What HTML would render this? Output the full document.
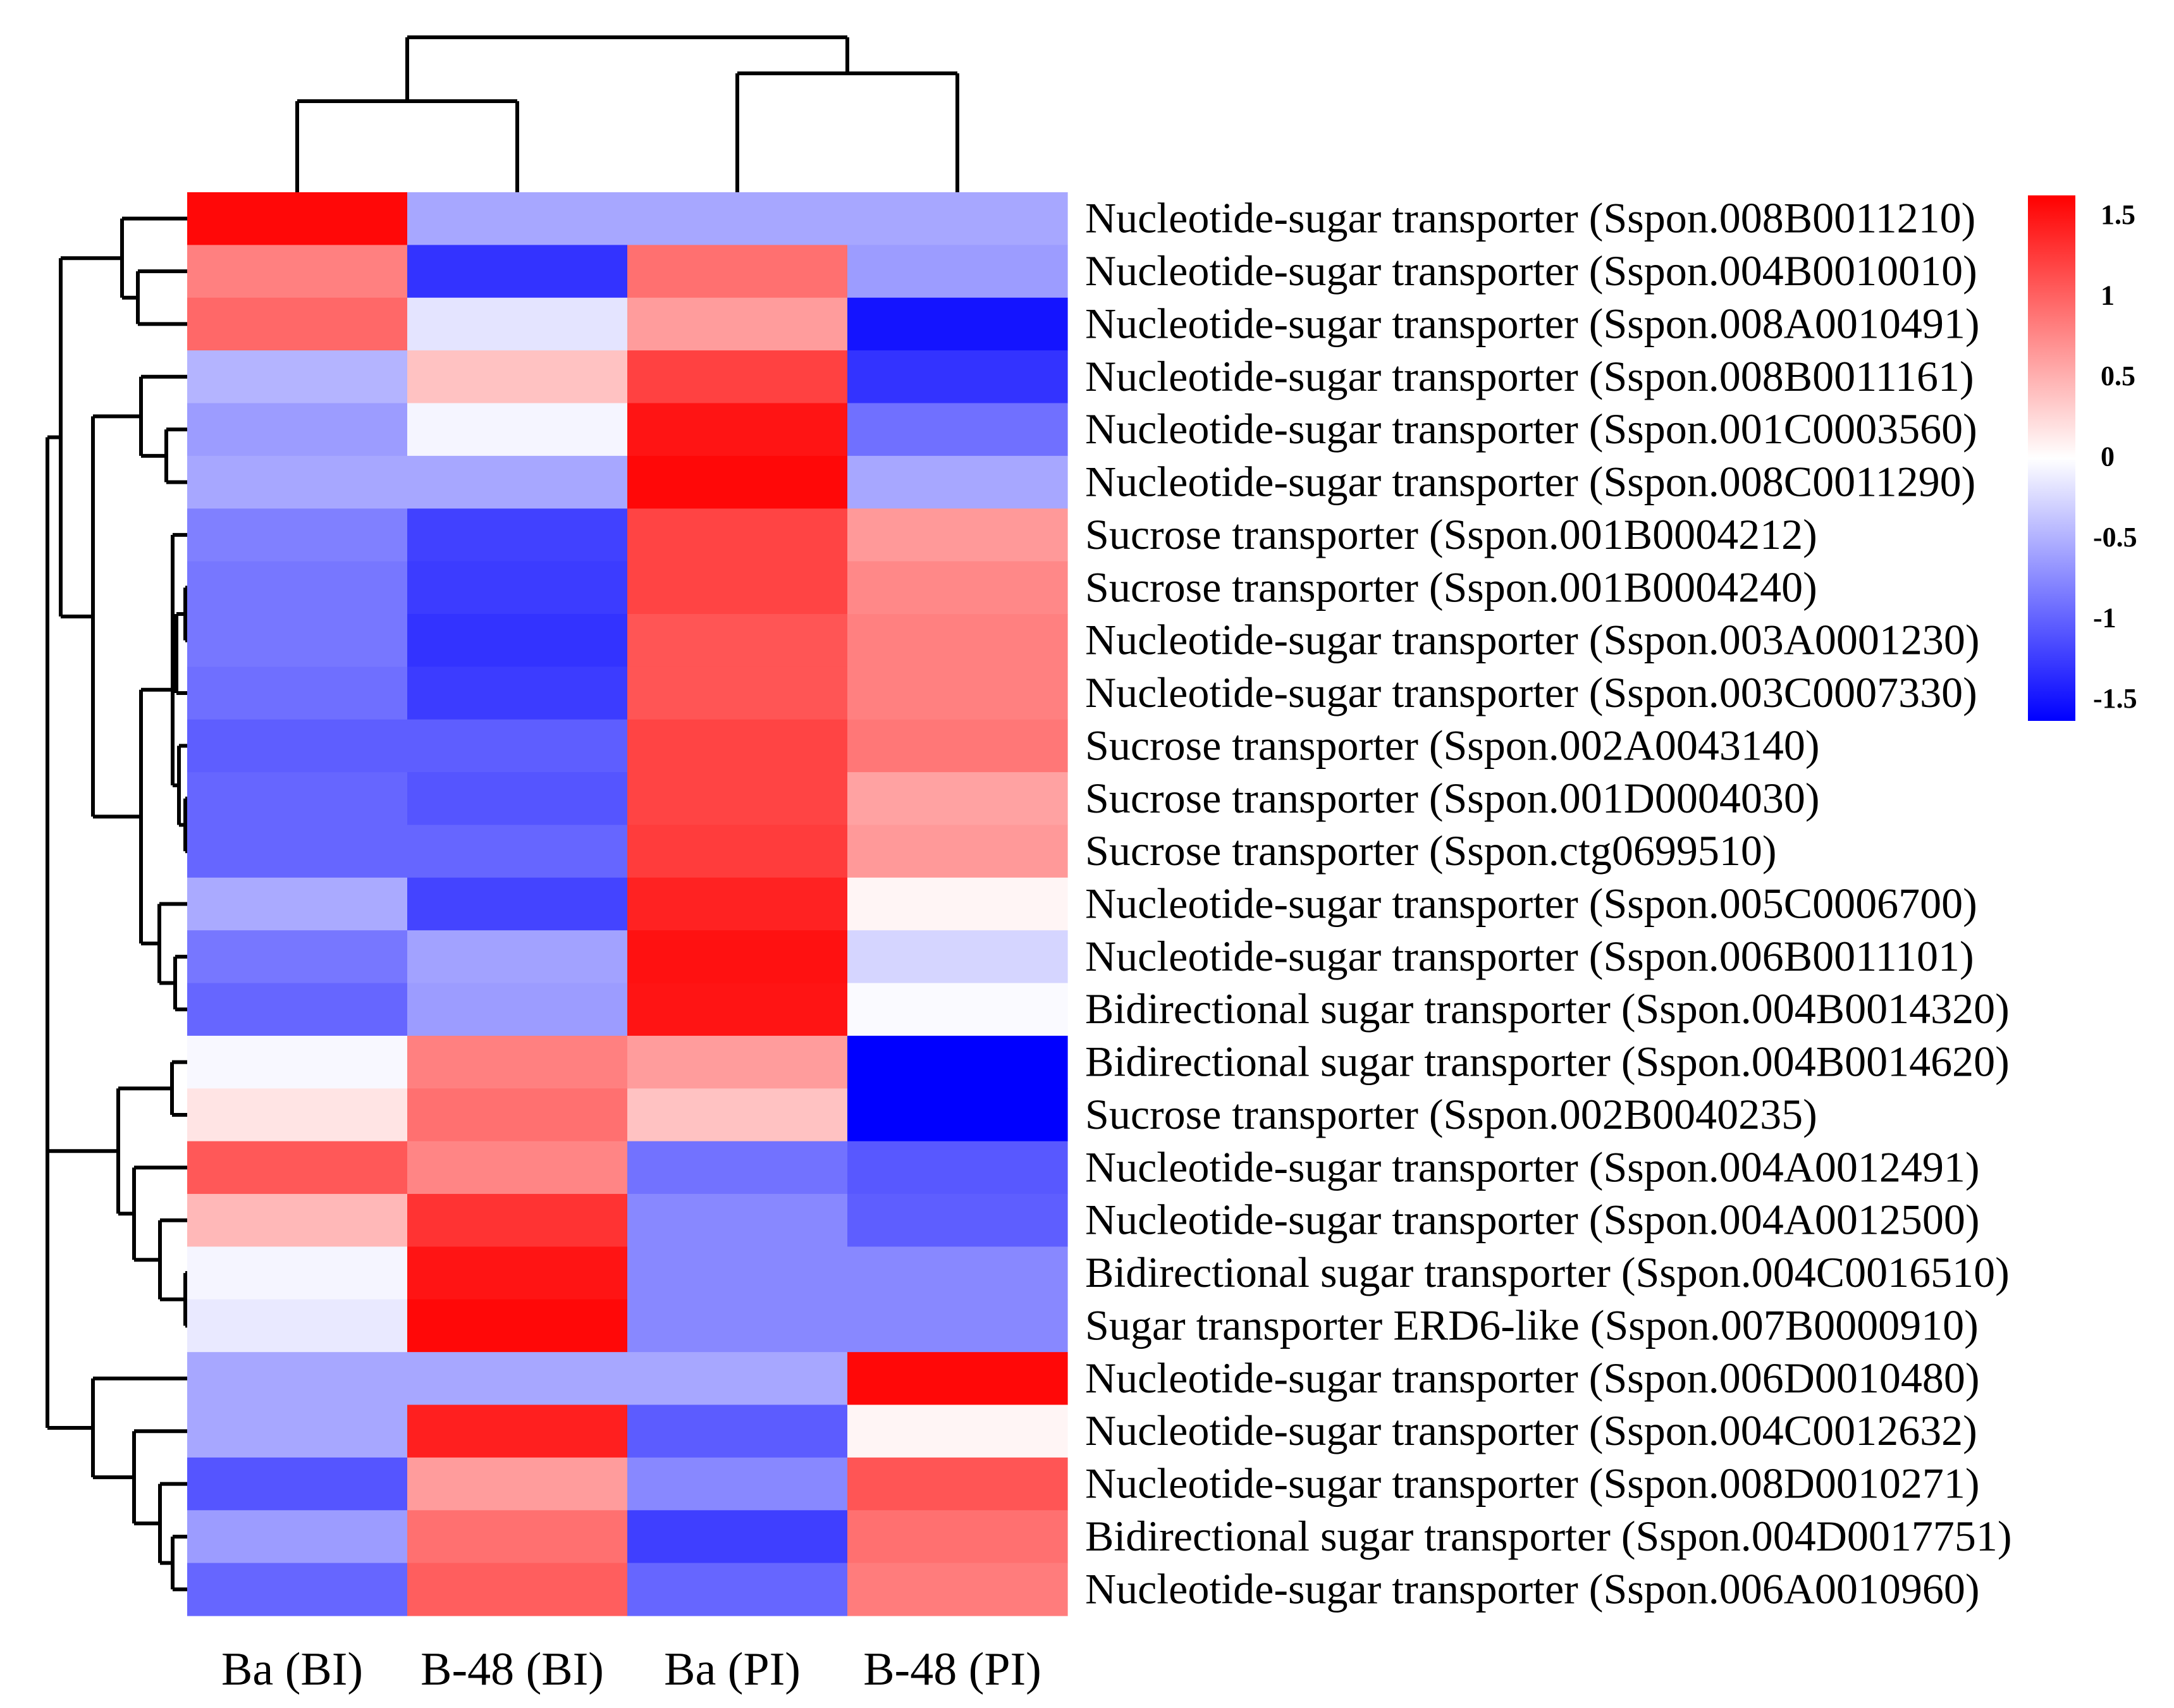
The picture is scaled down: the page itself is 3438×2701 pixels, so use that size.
<!DOCTYPE html>
<html><head><meta charset="utf-8"><style>
html,body{margin:0;padding:0;background:#fff;}
svg{display:block;}
text{font-family:"Liberation Serif",serif;fill:#000;}
</style></head><body>
<svg id="chart" width="3438" height="2701" viewBox="0 0 3438 2701" xmlns="http://www.w3.org/2000/svg">
<defs>
<linearGradient id="cbar" x1="0" y1="0" x2="0" y2="1">
<stop offset="0" stop-color="#ff0000"/><stop offset="0.5" stop-color="#ffffff"/><stop offset="1" stop-color="#0000ff"/>
</linearGradient>
</defs>
<g id="heat"></g>
<g id="rowlabels"></g>
<g id="collabels"></g>
<g id="dendro" stroke="#000" stroke-width="6" fill="none"></g>
<g>
<rect x="3207" y="309" width="75" height="831" fill="url(#cbar)"/>
<g id="legticks" font-weight="bold" font-size="44"></g>
</g>
</svg>
<script>
const columns = ["Ba (BI)","B-48 (BI)","Ba (PI)","B-48 (PI)"];
const rows = [
"Nucleotide-sugar transporter (Sspon.008B0011210)",
"Nucleotide-sugar transporter (Sspon.004B0010010)",
"Nucleotide-sugar transporter (Sspon.008A0010491)",
"Nucleotide-sugar transporter (Sspon.008B0011161)",
"Nucleotide-sugar transporter (Sspon.001C0003560)",
"Nucleotide-sugar transporter (Sspon.008C0011290)",
"Sucrose transporter (Sspon.001B0004212)",
"Sucrose transporter (Sspon.001B0004240)",
"Nucleotide-sugar transporter (Sspon.003A0001230)",
"Nucleotide-sugar transporter (Sspon.003C0007330)",
"Sucrose transporter (Sspon.002A0043140)",
"Sucrose transporter (Sspon.001D0004030)",
"Sucrose transporter (Sspon.ctg0699510)",
"Nucleotide-sugar transporter (Sspon.005C0006700)",
"Nucleotide-sugar transporter (Sspon.006B0011101)",
"Bidirectional sugar transporter (Sspon.004B0014320)",
"Bidirectional sugar transporter (Sspon.004B0014620)",
"Sucrose transporter (Sspon.002B0040235)",
"Nucleotide-sugar transporter (Sspon.004A0012491)",
"Nucleotide-sugar transporter (Sspon.004A0012500)",
"Bidirectional sugar transporter (Sspon.004C0016510)",
"Sugar transporter ERD6-like (Sspon.007B0000910)",
"Nucleotide-sugar transporter (Sspon.006D0010480)",
"Nucleotide-sugar transporter (Sspon.004C0012632)",
"Nucleotide-sugar transporter (Sspon.008D0010271)",
"Bidirectional sugar transporter (Sspon.004D0017751)",
"Nucleotide-sugar transporter (Sspon.006A0010960)"];
const valBaBI  = [1.45,0.75,0.89,-0.44,-0.58,-0.52,-0.75,-0.8,-0.8,-0.85,-0.95,-0.9,-0.9,-0.5,-0.8,-0.9,-0.04,0.16,0.98,0.42,-0.06,-0.13,-0.52,-0.52,-1.0,-0.58,-0.9];
const valB48BI = [-0.52,-1.2,-0.16,0.36,-0.06,-0.52,-1.12,-1.15,-1.2,-1.15,-0.95,-1.0,-0.9,-1.1,-0.55,-0.58,0.75,0.84,0.72,1.2,1.38,1.45,-0.52,1.32,0.58,0.84,0.95];
const valBaPI  = [-0.52,0.84,0.58,1.12,1.38,1.45,1.1,1.1,1.0,1.0,1.1,1.1,1.15,1.3,1.4,1.38,0.58,0.36,-0.83,-0.7,-0.7,-0.7,-0.52,-0.96,-0.7,-1.13,-0.9];
const valB48PI = [-0.52,-0.58,-1.38,-1.2,-0.84,-0.52,0.6,0.7,0.75,0.75,0.8,0.55,0.6,0.06,-0.25,-0.03,-1.5,-1.5,-0.98,-0.95,-0.7,-0.7,1.45,0.06,1.0,0.84,0.77];
const legendTicks = [1.5,1,0.5,0,-0.5,-1,-1.5];
const legendLabels = ["1.5","1","0.5","0","-0.5","-1","-1.5"];
const rowTree = [75,
  [96, [193, 0, [218,1,2]],
       [147, [223, 3, [263,4,5]],
             [223, [273, [273, 6, [279, [293,7,8], 9]], [283, 10, [293,11,12]]],
                   [252, 13, [277,14,15]]]]],
  [187, [272,16,17], [212, 18, [253, 19, [293,20,21]]]],
  [147, 22, [212, 23, [253, 24, [273,25,26]]]]
];
const colTree = [59, [160,0,1], [116,2,3]];

const NS="http://www.w3.org/2000/svg";
const X0=296, X1=1688, Y0=304, Y1=2555;
const cw=(X1-X0)/columns.length, rh=(Y1-Y0)/rows.length;
const series=[valBaBI,valB48BI,valBaPI,valB48PI];
function color(v){v=Math.max(-1.5,Math.min(1.5,v));const t=Math.round(255*(1-Math.abs(v)/1.5));return v>=0?`rgb(255,${t},${t})`:`rgb(${t},${t},255)`;}
function mk(tag,attrs,parent){const e=document.createElementNS(NS,tag);for(const k in attrs)e.setAttribute(k,attrs[k]);parent.appendChild(e);return e;}
const heat=document.getElementById('heat');
series.forEach((s,c)=>s.forEach((v,r)=>{
  const e=mk('rect',{x:X0+c*cw,y:Y0+r*rh,width:cw+0.6,height:rh+0.6,fill:color(v)},heat);
  
  
}));
const rl=document.getElementById('rowlabels');
rows.forEach((n,r)=>{
  const t=mk('text',{x:1716,y:Y0+(r+0.5)*rh+22,'font-size':68},rl);t.textContent=n;
  
  
});
const cl=document.getElementById('collabels');
columns.forEach((n,c)=>{
  const t=mk('text',{x:X0+(c+0.5)*cw-8,y:2664,'font-size':74,'text-anchor':'middle'},cl);t.textContent=n;
  
  
});
const lt=document.getElementById('legticks');
const LY0=340, LY1=1105;
legendTicks.forEach((v,i)=>{
  const y=LY0+(1.5-v)/3*(LY1-LY0);
  const t=mk('text',{x:(v<0?3310:3322),y:y+14},lt);t.textContent=legendLabels[i];
  
  
});
const dg=document.getElementById('dendro');
function line(x1,y1,x2,y2){const e=mk('line',{x1,y1,x2,y2},dg);
  
  }
function drawRow(n){
  if(typeof n==='number') return [Y0+(n+0.5)*rh, X0];
  const h=n[0]; const ch=n.slice(1).map(drawRow);
  ch.forEach(([y,x])=>line(h,y,x,y));
  const ys=ch.map(c=>c[0]); line(h,Math.min(...ys),h,Math.max(...ys));
  return [(Math.min(...ys)+Math.max(...ys))/2,h];
}
drawRow(rowTree);
function drawCol(n){
  if(typeof n==='number') return [X0+(n+0.5)*cw, Y0];
  const h=n[0]; const ch=n.slice(1).map(drawCol);
  ch.forEach(([x,y])=>line(x,h,x,y));
  const xs=ch.map(c=>c[0]); line(Math.min(...xs),h,Math.max(...xs),h);
  return [(Math.min(...xs)+Math.max(...xs))/2,h];
}
drawCol(colTree);
</script>
</body></html>
